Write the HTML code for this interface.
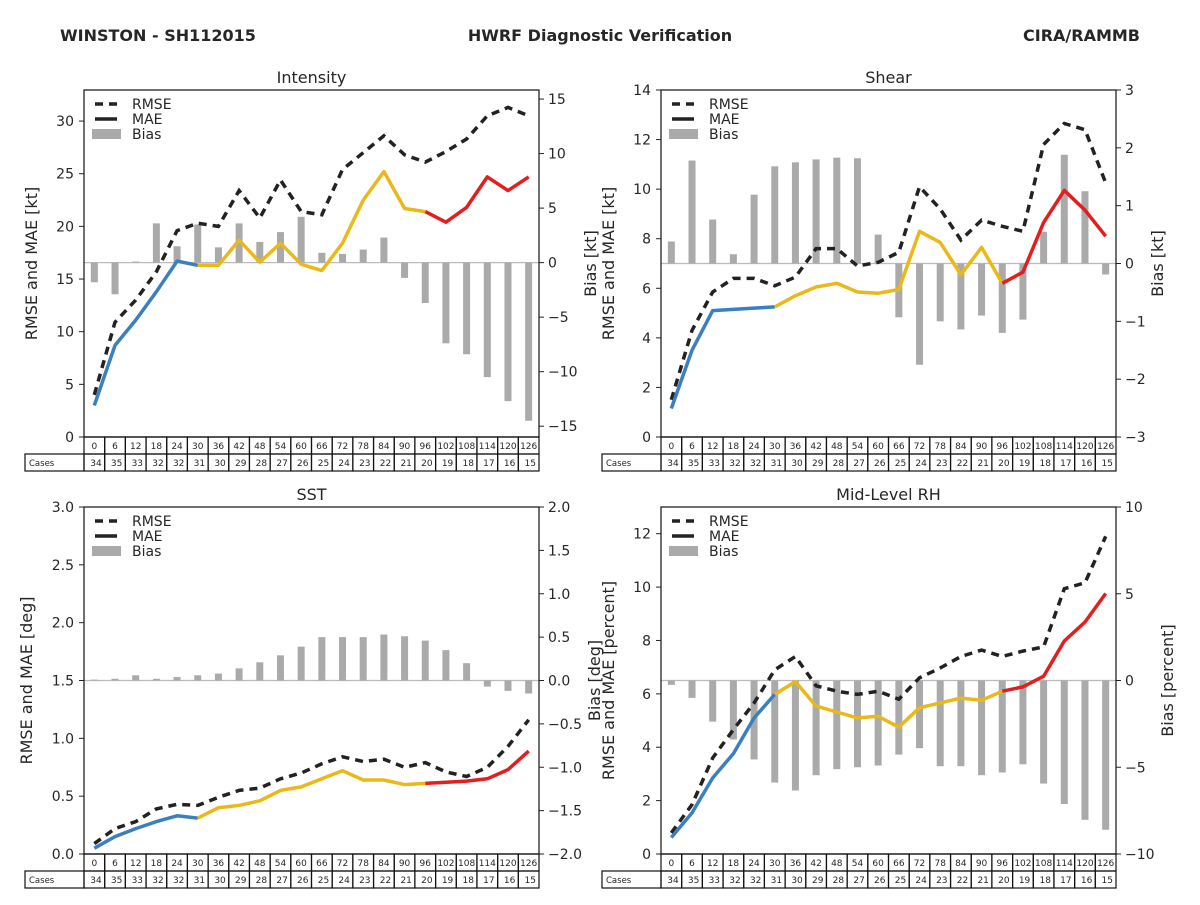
<!DOCTYPE html>
<html><head><meta charset="utf-8">
<style>
body{margin:0;background:#fff;font-family:"Liberation Sans","DejaVu Sans",sans-serif;}
svg text{font-family:"DejaVu Sans","Liberation Sans",sans-serif;fill:#262626;}
</style></head>
<body>
<svg id="fig" width="1200" height="900" viewBox="0 0 1200 900" xmlns="http://www.w3.org/2000/svg">
<rect width="1200" height="900" fill="#fff"/>
<text x="60" y="41" font-size="16" font-weight="bold" fill="#333">WINSTON - SH112015</text>
<text x="600" y="41" font-size="16" font-weight="bold" text-anchor="middle" fill="#333">HWRF Diagnostic Verification</text>
<text x="1140" y="41" font-size="16" font-weight="bold" text-anchor="end" fill="#333">CIRA/RAMMB</text>
</svg>
<script>
const leads=[0,6,12,18,24,30,36,42,48,54,60,66,72,78,84,90,96,102,108,114,120,126];
const cases=[34,35,33,32,32,31,30,29,28,27,26,25,24,23,22,21,20,19,18,17,16,15];
const intRmse=[4.0,10.9,13.0,15.7,19.6,20.3,20.0,23.4,20.8,24.4,21.4,21.1,25.4,27.0,28.6,26.8,26.1,27.1,28.3,30.5,31.3,30.5];
const intMae=[3.0,8.7,11.1,13.8,16.7,16.3,16.3,18.7,16.6,18.4,16.4,15.8,18.4,22.5,25.2,21.7,21.4,20.4,21.8,24.7,23.4,24.7];
const intBias=[-1.8,-2.9,0.1,3.6,1.5,3.5,1.4,3.6,1.9,2.8,4.2,0.9,0.8,1.2,2.3,-1.4,-3.7,-7.4,-8.4,-10.5,-12.7,-14.5];
const shrRmse=[1.5,4.3,5.85,6.4,6.4,6.1,6.45,7.6,7.6,6.9,7.05,7.45,10.1,9.2,7.95,8.75,8.5,8.3,11.8,12.65,12.4,10.25];
const shrMae=[1.15,3.5,5.1,5.15,5.2,5.25,5.7,6.05,6.2,5.85,5.8,5.95,8.3,7.85,6.55,7.65,6.2,6.65,8.65,9.95,9.15,8.1];
const shrBias=[0.38,1.78,0.76,0.16,1.19,1.68,1.75,1.8,1.83,1.82,0.5,-0.93,-1.75,-1.0,-1.14,-0.9,-1.2,-0.97,0.55,1.88,1.25,-0.19];
const sstRmse=[0.09,0.22,0.28,0.39,0.43,0.42,0.49,0.55,0.57,0.65,0.7,0.78,0.84,0.8,0.82,0.75,0.79,0.71,0.67,0.75,0.93,1.16];
const sstMae=[0.05,0.15,0.22,0.28,0.33,0.31,0.4,0.42,0.46,0.55,0.58,0.65,0.72,0.64,0.64,0.6,0.61,0.62,0.63,0.65,0.73,0.89];
const sstBias=[0.01,0.02,0.06,0.02,0.04,0.06,0.08,0.14,0.21,0.29,0.39,0.5,0.5,0.5,0.53,0.51,0.46,0.35,0.2,-0.07,-0.12,-0.15];
const rhRmse=[0.79,1.85,3.6,4.66,5.66,6.9,7.4,6.3,6.1,5.98,6.1,5.8,6.6,6.97,7.4,7.64,7.4,7.6,7.76,9.94,10.16,11.9];
const rhMae=[0.62,1.54,2.85,3.76,5.1,5.98,6.46,5.54,5.32,5.1,5.16,4.75,5.48,5.66,5.84,5.76,6.1,6.26,6.66,7.98,8.69,9.76];
const rhBias=[-0.25,-1.0,-2.37,-3.4,-4.55,-5.88,-6.34,-5.46,-5.11,-5.0,-4.9,-4.27,-3.9,-4.94,-4.94,-5.46,-5.3,-4.83,-5.94,-7.12,-8.03,-8.6];
const intLTicks=[0,5,10,15,20,25,30], intRTicks=[-15,-10,-5,0,5,10,15];
const shrLTicks=[0,2,4,6,8,10,12,14], shrRTicks=[-3,-2,-1,0,1,2,3];
const sstLTicks=[0,0.5,1.0,1.5,2.0,2.5,3.0], sstRTicks=[-2.0,-1.5,-1.0,-0.5,0.0,0.5,1.0,1.5,2.0];
const rhLTicks=[0,2,4,6,8,10,12], rhRTicks=[-10,-5,0,5,10];

const NS='http://www.w3.org/2000/svg';
const svg=document.getElementById('fig');
function mk(tag,attrs,parent){const e=document.createElementNS(NS,tag);for(const k in attrs)e.setAttribute(k,attrs[k]);(parent||svg).appendChild(e);return e;}

const panels=[
 {name:'intensity',title:'Intensity',x0:84,y0:90,lmax:32.95,rmin:-15.99,rmax:15.83,rmse:intRmse,mae:intMae,bias:intBias,lt:intLTicks,rt:intRTicks,lfmt:v=>String(v),rfmt:v=>v<0?'\u2212'+(-v):String(v),ylab:'RMSE and MAE [kt]',ylx:37,rlab:'Bias [kt]',rlx:596},
 {name:'shear',title:'Shear',x0:661,y0:90,lmax:14,rmin:-3,rmax:3,rmse:shrRmse,mae:shrMae,bias:shrBias,lt:shrLTicks,rt:shrRTicks,lfmt:v=>String(v),rfmt:v=>v<0?'\u2212'+(-v):String(v),ylab:'RMSE and MAE [kt]',ylx:614,rlab:'Bias [kt]',rlx:1163},
 {name:'sst',title:'SST',x0:84,y0:507,lmax:3,rmin:-2,rmax:2,rmse:sstRmse,mae:sstMae,bias:sstBias,lt:sstLTicks,rt:sstRTicks,lfmt:v=>v.toFixed(1),rfmt:v=>v<0?'\u2212'+(-v).toFixed(1):v.toFixed(1),ylab:'RMSE and MAE [deg]',ylx:32,rlab:'Bias [deg]',rlx:600},
 {name:'mid-level-rh',title:'Mid-Level RH',x0:661,y0:507,lmax:13,rmin:-10,rmax:10,rmse:rhRmse,mae:rhMae,bias:rhBias,lt:rhLTicks,rt:rhRTicks,lfmt:v=>String(v),rfmt:v=>v<0?'\u2212'+(-v):String(v),ylab:'RMSE and MAE [percent]',ylx:614,rlab:'Bias [percent]',rlx:1173}
];
const W=455,H=347,n=leads.length,cw=W/n;
const segs=[[0,5,'#3a7fbf'],[5,16,'#ebb81a'],[16,21,'#e41e1e']];

panels.forEach(p=>{
 const g=mk('g',{});
 
 
 const xs=i=>p.x0+cw*(i+0.5);
 const yl=v=>p.y0+H-v/p.lmax*H;
 const yr=v=>p.y0+H-(v-p.rmin)/(p.rmax-p.rmin)*H;
 const t=mk('text',{x:p.x0+W/2,y:p.y0-7,'font-size':16,'text-anchor':'middle'},g);t.textContent=p.title;
 
 
 const zl=mk('line',{x1:p.x0,x2:p.x0+W,y1:yr(0),y2:yr(0),stroke:'#bbb','stroke-width':1.2},g);
 
 
 p.bias.forEach((v,i)=>{
  const y0=yr(0),y1=yr(v);
  const r=mk('rect',{x:xs(i)-3.5,y:Math.min(y0,y1),width:7,height:Math.max(Math.abs(y1-y0),0.5),fill:'#aaaaaa'},g);
  
  
 });
 const rp=p.rmse.map((v,i)=>xs(i).toFixed(1)+','+yl(v).toFixed(1)).join(' ');
 const rl=mk('polyline',{points:rp,fill:'none',stroke:'#222','stroke-width':3.5,'stroke-dasharray':'8,6'},g);
 
 
 segs.forEach(s=>{
  const pts=[];for(let i=s[0];i<=s[1];i++)pts.push(xs(i).toFixed(1)+','+yl(p.mae[i]).toFixed(1));
  const ml=mk('polyline',{points:pts.join(' '),fill:'none',stroke:s[2],'stroke-width':3.5,'stroke-linejoin':'round'},g);
  
  
 });
 const fr=mk('rect',{x:p.x0,y:p.y0,width:W,height:H,fill:'none',stroke:'#222','stroke-width':1.3},g);
 
 
 p.lt.forEach(v=>{
  const y=yl(v);
  mk('line',{x1:p.x0-5,x2:p.x0,y1:y,y2:y,stroke:'#222','stroke-width':1},g);
  const tt=mk('text',{x:p.x0-10,y:y+5,'font-size':14,'text-anchor':'end'},g);tt.textContent=p.lfmt(v);
  
  
 });
 p.rt.forEach(v=>{
  const y=yr(v);
  mk('line',{x1:p.x0+W,x2:p.x0+W+5,y1:y,y2:y,stroke:'#222','stroke-width':1},g);
  const tt=mk('text',{x:p.x0+W+9,y:y+5,'font-size':14},g);tt.textContent=p.rfmt(v);
  
  
 });
 const cy=p.y0+H/2;
 const la=mk('text',{x:p.ylx,y:cy,'font-size':16,'text-anchor':'middle',transform:'rotate(-90 '+p.ylx+' '+cy+')'},g);la.textContent=p.ylab;
 
 
 const ra=mk('text',{x:p.rlx,y:cy,'font-size':16,'text-anchor':'middle',transform:'rotate(-90 '+p.rlx+' '+cy+')'},g);ra.textContent=p.rlab;
 
 
 const lx=p.x0+11,ly=p.y0+14;
 mk('line',{x1:lx,x2:lx+22,y1:ly,y2:ly,stroke:'#222','stroke-width':3.5,'stroke-dasharray':'8,6'},g);
 mk('line',{x1:lx,x2:lx+22,y1:ly+15,y2:ly+15,stroke:'#222','stroke-width':3.5},g);
 mk('rect',{x:lx-3,y:ly+25,width:29,height:10,fill:'#aaa'},g);
 ['RMSE','MAE','Bias'].forEach((s,k)=>{
  const lt=mk('text',{x:lx+37,y:ly+5+k*15,'font-size':14},g);lt.textContent=s;
  
  
 });
 const ty=p.y0+H;
 mk('rect',{x:p.x0-59,y:ty+17,width:59,height:17,fill:'none',stroke:'#111','stroke-width':1.2},g);
 const ct=mk('text',{x:p.x0-55,y:ty+29,'font-size':8.5},g);ct.textContent='Cases';
 
 
 leads.forEach((L,i)=>{
  const cx=p.x0+cw*i;
  mk('rect',{x:cx,y:ty,width:cw,height:17,fill:'none',stroke:'#111','stroke-width':1.2},g);
  mk('rect',{x:cx,y:ty+17,width:cw,height:17,fill:'none',stroke:'#111','stroke-width':1.2},g);
  const a=mk('text',{x:cx+cw/2,y:ty+12,'font-size':9,'text-anchor':'middle'},g);a.textContent=L;
  
  
  const b=mk('text',{x:cx+cw-3,y:ty+29,'font-size':9,'text-anchor':'end'},g);b.textContent=cases[i];
  
  
 });
});
</script>
</body></html>
